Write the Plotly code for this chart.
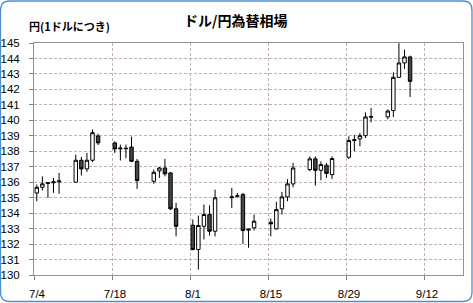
import plotly.graph_objects as go

dates = ["2022-07-04", "2022-07-05", "2022-07-06", "2022-07-07", "2022-07-08",
         "2022-07-11", "2022-07-12", "2022-07-13", "2022-07-14", "2022-07-15",
         "2022-07-18", "2022-07-19", "2022-07-20", "2022-07-21", "2022-07-22",
         "2022-07-25", "2022-07-26", "2022-07-27", "2022-07-28", "2022-07-29",
         "2022-08-01", "2022-08-02", "2022-08-03", "2022-08-04", "2022-08-05",
         "2022-08-08", "2022-08-09", "2022-08-10", "2022-08-11", "2022-08-12",
         "2022-08-15", "2022-08-16", "2022-08-17", "2022-08-18", "2022-08-19",
         "2022-08-22", "2022-08-23", "2022-08-24", "2022-08-25", "2022-08-26",
         "2022-08-29", "2022-08-30", "2022-08-31", "2022-09-01", "2022-09-02",
         "2022-09-05", "2022-09-06", "2022-09-07", "2022-09-08", "2022-09-09"]

opens = [135.30, 135.67, 135.92, 135.96, 136.02,
         136.00, 137.42, 136.86, 137.42, 138.99,
         138.54, 138.15, 138.20, 138.27, 137.35,
         136.06, 136.73, 136.92, 136.60, 134.28,
         133.22, 131.65, 133.15, 133.91, 132.83,
         135.00, 135.09, 135.20, 132.90, 133.05,
         133.41, 132.98, 134.28, 135.05, 135.89,
         136.82, 137.51, 136.77, 137.10, 136.49,
         137.61, 138.69, 138.80, 139.01, 140.20,
         140.22, 140.63, 142.78, 143.71, 144.10]

highs = [135.85, 136.38, 135.98, 136.28, 136.60,
         137.78, 137.64, 137.90, 139.40, 139.14,
         138.64, 138.43, 138.43, 138.95, 137.50,
         136.82, 136.99, 137.50, 136.65, 134.67,
         133.59, 133.84, 134.56, 134.50, 135.52,
         135.63, 135.30, 135.31, 133.00, 133.91,
         133.65, 134.73, 135.37, 136.20, 137.25,
         137.67, 137.67, 137.35, 137.25, 137.67,
         138.97, 139.05, 139.19, 140.52, 140.80,
         140.71, 143.10, 144.99, 144.57, 144.18]

lows = [134.77, 135.46, 134.99, 135.31, 135.25,
        136.00, 136.43, 136.67, 137.30, 138.40,
        137.89, 137.40, 137.55, 137.30, 135.57,
        135.90, 136.28, 136.38, 134.20, 132.50,
        131.60, 130.35, 132.30, 132.55, 132.50,
        134.34, 135.00, 132.00, 131.76, 132.87,
        132.50, 132.94, 133.91, 134.77, 135.67,
        136.71, 135.78, 136.12, 136.28, 136.21,
        137.50, 138.00, 138.32, 138.86, 139.87,
        140.07, 140.22, 142.74, 143.32, 141.51]

closes = [135.67, 135.89, 135.96, 136.02, 136.08,
          137.42, 136.86, 137.42, 139.20, 138.54,
          138.15, 138.20, 138.17, 137.35, 136.10,
          136.64, 136.92, 136.54, 134.28, 133.15,
          131.65, 133.20, 133.91, 132.83, 134.99,
          135.05, 135.12, 132.87, 132.96, 133.48,
          133.31, 134.23, 135.05, 135.89, 136.92,
          137.51, 136.77, 137.14, 136.56, 137.53,
          138.69, 138.75, 139.01, 140.22, 140.24,
          140.60, 142.78, 143.71, 144.10, 142.52]

tick_dates = ["2022-07-04", "2022-07-18", "2022-08-01", "2022-08-15", "2022-08-29", "2022-09-12"]
tick_labels = ["7/4", "7/18", "8/1", "8/15", "8/29", "9/12"]
y_ticks = list(range(130, 146))

title_text = "ドル/円為替相場"
y_title_text = "円(1ドルにつき)"

fig = go.Figure()
fig.add_trace(go.Candlestick(
    x=[d + " 12:00" for d in dates],
    open=opens, high=highs, low=lows, close=closes,
    increasing=dict(fillcolor="white", line=dict(color="black", width=1)),
    decreasing=dict(fillcolor="#454545", line=dict(color="black", width=1)),
    whiskerwidth=0,
    showlegend=False,
))

W, H = 473, 303
ml, mr, mt, mb = 34, 10, 43, 28
pw, ph = W - ml - mr, H - mt - mb

def px(x):
    return (x - ml) / pw

def py(y):
    return (H - mb - y) / ph

# rounded outer border
x0, x1, y0, y1, r = 0.5, 472.0, 1.0, 301.5, 9
path = (f"M {px(x0 + r)},{py(y0)} L {px(x1 - r)},{py(y0)} "
        f"Q {px(x1)},{py(y0)} {px(x1)},{py(y0 + r)} "
        f"L {px(x1)},{py(y1 - r)} Q {px(x1)},{py(y1)} {px(x1 - r)},{py(y1)} "
        f"L {px(x0 + r)},{py(y1)} Q {px(x0)},{py(y1)} {px(x0)},{py(y1 - r)} "
        f"L {px(x0)},{py(y0 + r)} Q {px(x0)},{py(y0)} {px(x0 + r)},{py(y0)} Z")

fig.update_layout(
    width=W, height=H,
    margin=dict(l=ml, r=mr, t=mt, b=mb),
    paper_bgcolor="white", plot_bgcolor="white",
    boxgap=0.12,
    font=dict(family="Liberation Sans, Arial, Noto Sans CJK JP", size=11, color="black"),
    shapes=[dict(type="path", xref="paper", yref="paper", path=path,
                 line=dict(color="#4a8fd6", width=1.3), layer="below")],
    annotations=[
        dict(text="<b>" + title_text + "</b>", xref="paper", yref="paper",
             x=px(235), y=py(20), xanchor="center", yanchor="middle", showarrow=False,
             font=dict(family="Noto Sans CJK JP", size=14, color="black")),
        dict(text="<b>" + y_title_text + "</b>", xref="paper", yref="paper",
             x=px(27), y=py(26), xanchor="left", yanchor="middle", showarrow=False,
             font=dict(family="Noto Sans CJK JP", size=11, color="black")),
    ],
    xaxis=dict(
        type="date", range=["2022-07-04", "2022-09-19"],
        tickmode="array", tickvals=tick_dates, ticktext=tick_labels,
        ticks="outside", ticklen=4, tickcolor="#808080",
        showgrid=True, gridcolor="#bfaebf", griddash="3px,2px", gridwidth=1,
        showline=True, linecolor="#8c968c", linewidth=1, mirror=True,
        rangeslider=dict(visible=False), ticklabelshift=3, ticklabelstandoff=4,
        tickfont=dict(size=11.5), automargin=False,
    ),
    yaxis=dict(
        range=[130, 145], tickmode="array", tickvals=y_ticks,
        ticks="outside", ticklen=4, tickcolor="#808080",
        showgrid=True, gridcolor="#bfaebf", griddash="3px,2px", gridwidth=1,
        showline=True, linecolor="#8c968c", linewidth=1, mirror=True,
        zeroline=False, tickfont=dict(size=11.5), ticklabelstandoff=7,
        automargin=False,
    ),
)

fig.write_html("out.html")
